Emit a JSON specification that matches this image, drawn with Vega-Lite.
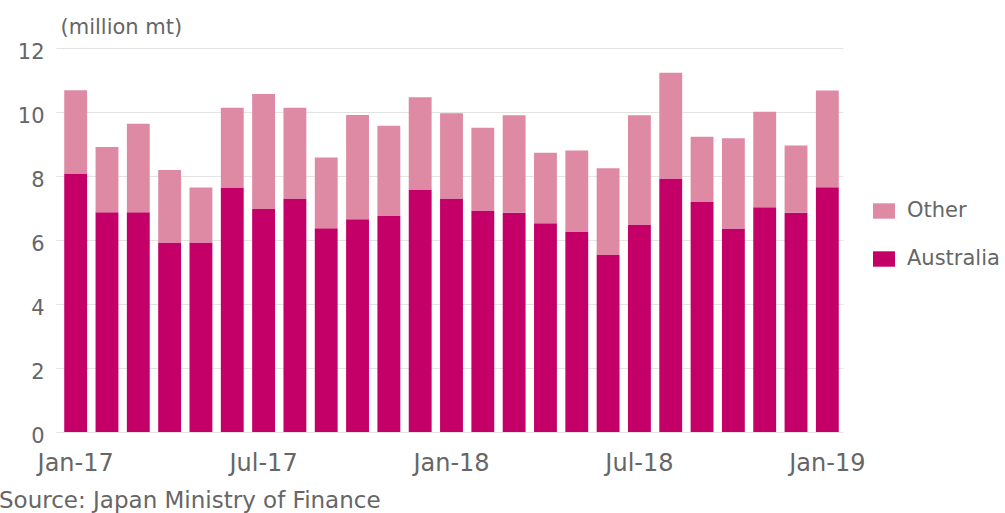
{
  "$schema": "https://vega.github.io/schema/vega-lite/v6.json",
  "width": 783,
  "height": 384,
  "autosize": "none",
  "padding": {"left": 60, "top": 48, "right": 162, "bottom": 81},
  "background": "white",
  "config": {"view": {"stroke": null}, "font": "DejaVu Sans"},
  "title": {
    "text": "Source: Japan Ministry of Finance",
    "orient": "bottom",
    "anchor": "start",
    "frame": "group",
    "dx": -61,
    "offset": 15,
    "fontSize": 23,
    "fontWeight": "normal",
    "color": "#666666"
  },
  "data": {
    "values": [
      {"month": "Jan-17", "Australia": 8.08, "Other": 2.60},
      {"month": "Feb-17", "Australia": 6.87, "Other": 2.04},
      {"month": "Mar-17", "Australia": 6.87, "Other": 2.76},
      {"month": "Apr-17", "Australia": 5.92, "Other": 2.27},
      {"month": "May-17", "Australia": 5.92, "Other": 1.72},
      {"month": "Jun-17", "Australia": 7.64, "Other": 2.49},
      {"month": "Jul-17", "Australia": 6.97, "Other": 3.59},
      {"month": "Aug-17", "Australia": 7.30, "Other": 2.83},
      {"month": "Sep-17", "Australia": 6.37, "Other": 2.21},
      {"month": "Oct-17", "Australia": 6.65, "Other": 3.26},
      {"month": "Nov-17", "Australia": 6.75, "Other": 2.82},
      {"month": "Dec-17", "Australia": 7.58, "Other": 2.88},
      {"month": "Jan-18", "Australia": 7.30, "Other": 2.66},
      {"month": "Feb-18", "Australia": 6.92, "Other": 2.59},
      {"month": "Mar-18", "Australia": 6.85, "Other": 3.05},
      {"month": "Apr-18", "Australia": 6.52, "Other": 2.21},
      {"month": "May-18", "Australia": 6.25, "Other": 2.55},
      {"month": "Jun-18", "Australia": 5.53, "Other": 2.71},
      {"month": "Jul-18", "Australia": 6.47, "Other": 3.43},
      {"month": "Aug-18", "Australia": 7.92, "Other": 3.31},
      {"month": "Sep-18", "Australia": 7.19, "Other": 2.04},
      {"month": "Oct-18", "Australia": 6.36, "Other": 2.82},
      {"month": "Nov-18", "Australia": 7.02, "Other": 2.99},
      {"month": "Dec-18", "Australia": 6.85, "Other": 2.10},
      {"month": "Jan-19", "Australia": 7.65, "Other": 3.02}
    ]
  },
  "transform": [{"fold": ["Australia", "Other"], "as": ["series", "value"]}],
  "mark": {"type": "bar"},
  "encoding": {
    "x": {
      "field": "month",
      "type": "ordinal",
      "sort": null,
      "scale": {"paddingInner": 0.27, "paddingOuter": 0.135},
      "axis": {
        "values": ["Jan-17", "Jul-17", "Jan-18", "Jul-18", "Jan-19"],
        "labelAngle": 0,
        "ticks": false,
        "domain": false,
        "labelFontSize": 24,
        "labelColor": "#666666",
        "labelPadding": 19,
        "title": null
      }
    },
    "y": {
      "field": "value",
      "type": "quantitative",
      "stack": "zero",
      "scale": {"domain": [0, 12]},
      "axis": {
        "values": [0, 2, 4, 6, 8, 10, 12],
        "grid": true,
        "gridColor": "#e3e3e3",
        "domain": false,
        "tickColor": "#e3e3e3",
        "tickSize": 4,
        "labelFontSize": 21,
        "labelColor": "#666666",
        "labelPadding": 12,
        "labelBaseline": "middle",
        "labelOffset": 4,
        "title": "(million mt)",
        "titleAngle": 0,
        "titleX": 0,
        "titleY": -11,
        "titleAlign": "left",
        "titleBaseline": "bottom",
        "titleFontWeight": "normal",
        "titleFontSize": 21,
        "titleColor": "#666666"
      }
    },
    "color": {
      "field": "series",
      "type": "nominal",
      "scale": {"domain": ["Other", "Australia"], "range": ["#DE8AA5", "#C40068"]},
      "legend": {
        "title": null,
        "orient": "none",
        "legendX": 813,
        "legendY": 152,
        "symbolType": "M-1,-0.7H1V0.7H-1Z",
        "symbolSize": 484,
        "symbolStrokeWidth": 0,
        "labelFontSize": 21,
        "labelColor": "#666666",
        "labelOffset": 12,
        "labelLimit": 200,
        "rowPadding": 27
      }
    },
    "order": {"field": "series", "sort": "ascending"}
  }
}
